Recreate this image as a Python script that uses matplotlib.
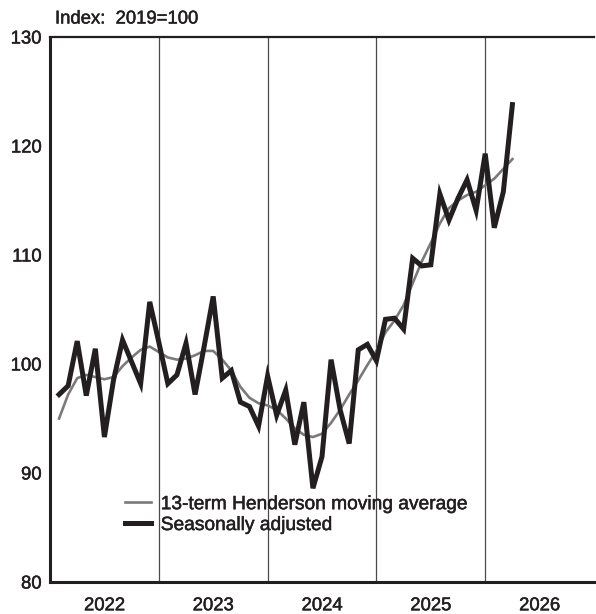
import matplotlib
matplotlib.use("Agg")
import matplotlib.pyplot as plt
import matplotlib.patheffects as pe
import numpy as np

plt.rcParams["font.family"] = ["Liberation Sans", "DejaVu Sans"]

# monthly data, Jan 2022 .. Mar 2026 (plotted at month end)
months = np.arange(51)
seas_adj = [97.2, 98.0, 102.1, 97.1, 101.4, 93.3, 98.5, 102.2, 100.2, 98.2,
            105.7, 102.0, 98.2, 99.0, 101.9, 97.2, 101.6, 106.2, 98.7, 99.4,
            96.5, 96.1, 94.3, 98.9, 95.3, 97.6, 92.6, 96.5, 88.6, 91.5,
            100.4, 95.8, 92.7, 101.3, 101.8, 100.3, 104.1, 104.2, 103.2, 109.7,
            109.0, 109.1, 115.6, 113.2, 115.2, 116.9, 114.1, 119.3, 112.5, 115.8,
            123.8]
henderson = [95.0, 97.2, 98.7, 99.0, 98.8, 98.6, 98.8, 99.8, 100.6, 101.3,
             101.6, 101.1, 100.6, 100.4, 100.5, 100.8, 101.2, 101.2, 100.4, 99.4,
             97.9, 96.9, 96.4, 96.2, 95.8, 95.0, 94.1, 93.5, 93.3, 93.6,
             94.6, 95.8, 97.2, 98.5, 99.9, 101.2, 102.9, 104.0, 105.4, 107.4,
             109.4, 111.1, 112.9, 114.3, 115.0, 115.5, 115.8, 116.4, 117.0, 117.9,
             118.8]
years = [2022, 2023, 2024, 2025, 2026]
y_ticks = [80, 90, 100, 110, 120, 130]

x = 2022 + (months + 1) / 12.0

INK = "#231f20"
bolden = [pe.withStroke(linewidth=0.35, foreground=INK)]

W, H = 596, 614
fig = plt.figure(figsize=(W / 100, H / 100), dpi=100)
ax = fig.add_axes([50 / W, 32 / H, 544 / W, 545 / H])

for yr in years[1:]:
    ax.axvline(yr, color="#4a4a4a", linewidth=0.9, zorder=1)

ax.plot(x, henderson, color="#7a7a7a", linewidth=1.9, zorder=2,
        label="13-term Henderson moving average")
ax.plot(x, seas_adj, color=INK, linewidth=3.6, zorder=3,
        solid_joinstyle="miter", label="Seasonally adjusted")

ax.set_xlim(2022, 2027)
ax.set_ylim(80, 130)

ax.set_xticks([yr + 0.5 for yr in years])
ax.set_xticklabels([str(yr) for yr in years])
ax.set_yticks(y_ticks)
ax.set_yticklabels([str(v) for v in y_ticks])
ax.tick_params(axis="both", length=0, labelsize=13.3, colors=INK)
ax.tick_params(axis="y", pad=6)
ax.tick_params(axis="x", pad=11)
ax.set_yticks([100], minor=True)
ax.tick_params(axis="y", which="minor", direction="in", length=12,
               width=1.6, color=INK)
for lab in ax.get_xticklabels() + ax.get_yticklabels():
    lab.set_path_effects(bolden)

ax.spines["right"].set_visible(False)
ax.spines["left"].set_linewidth(2.2)
ax.spines["bottom"].set_linewidth(2.2)
ax.spines["top"].set_linewidth(1.6)
for s in ["left", "bottom", "top"]:
    ax.spines[s].set_color(INK)

fig.text(55 / W, 1 - 19 / H, "Index:  2019=100", fontsize=13.3,
         color=INK, va="center", ha="left", path_effects=bolden)

leg = ax.legend(loc="lower left", bbox_to_anchor=(0.138, 0.088), frameon=False,
                fontsize=13.8, handlelength=1.33, handletextpad=0.53,
                labelspacing=0.18, borderpad=0, borderaxespad=0)
for t in leg.get_texts():
    t.set_color(INK)
    t.set_path_effects(bolden)

fig.savefig("out.png", dpi=100)
